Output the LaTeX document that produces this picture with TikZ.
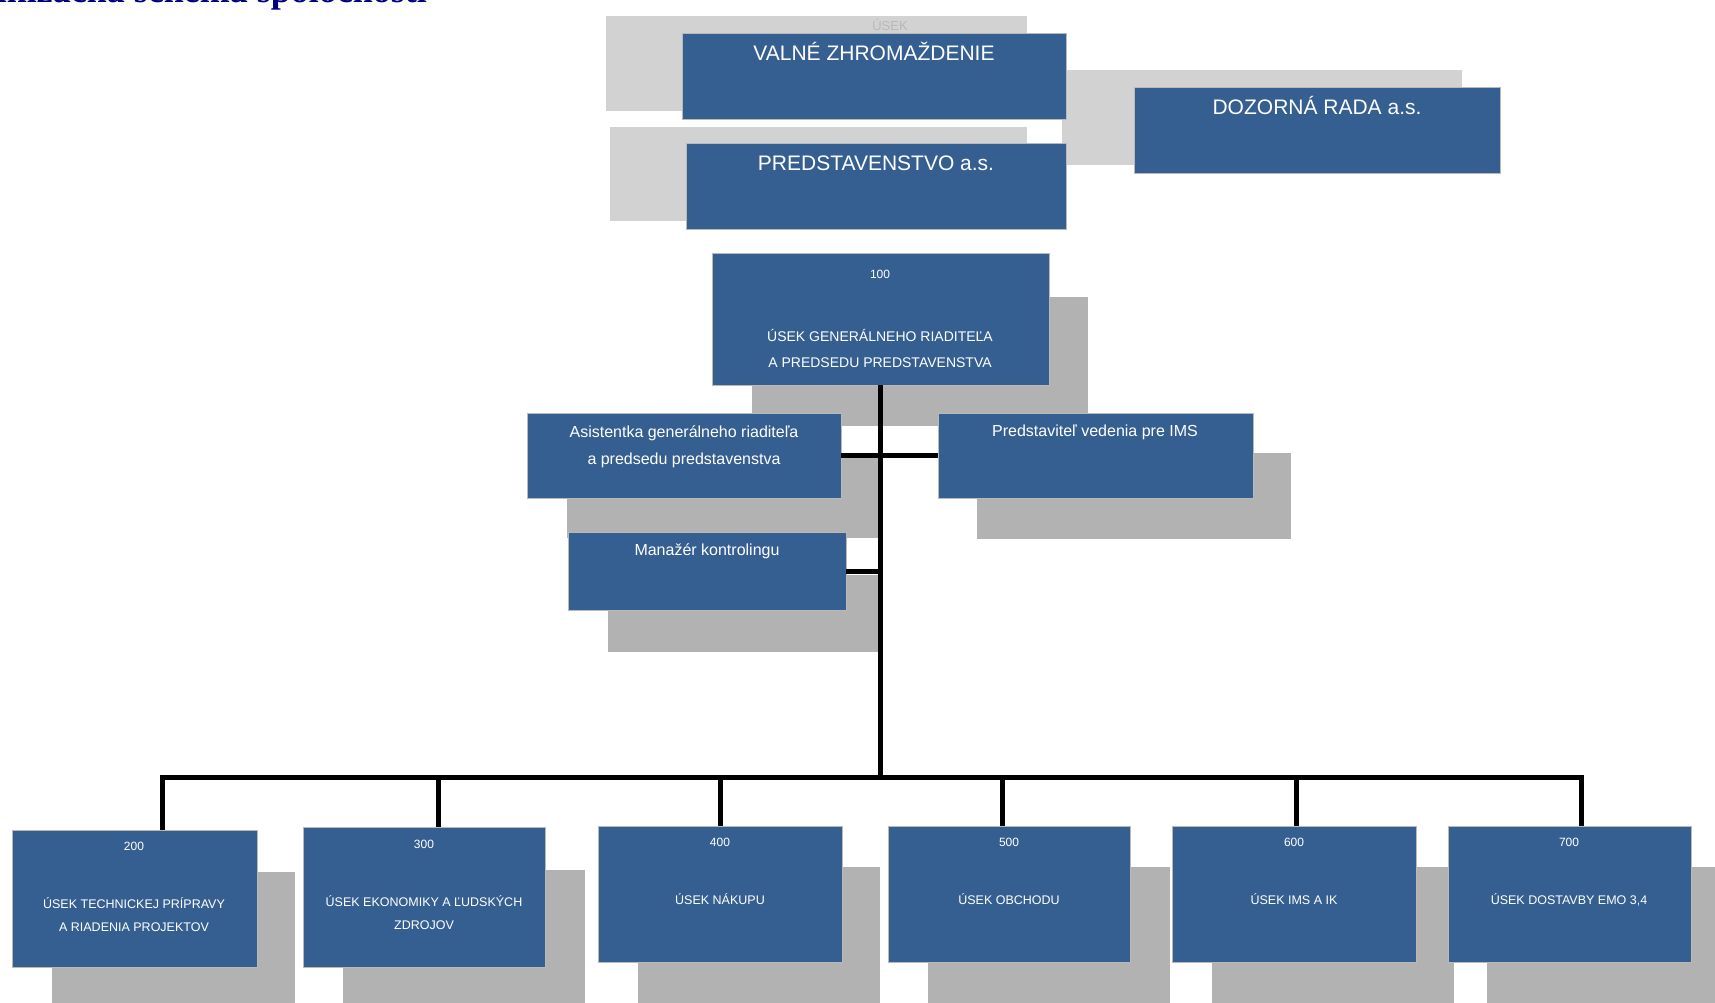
\documentclass[tikz,border=0pt]{standalone}
\usepackage{fontspec}
\setmainfont{Liberation Sans}
\newfontfamily\titlefont{Liberation Serif}
\usetikzlibrary{calc}
\definecolor{boxblue}{HTML}{365F91}
\definecolor{shadelight}{HTML}{D2D2D2}
\definecolor{shadedark}{HTML}{B2B2B2}
\definecolor{titleblue}{HTML}{000080}
\begin{document}
\begin{tikzpicture}[x=1pt,y=-1pt,
  orgbox/.style={draw=gray!55, line width=0.8pt, fill=boxblue, inner sep=0pt, outer sep=0pt, anchor=north west},
  lblone/.style={text=white, inner sep=0pt, text height=0.72em, text depth=0pt},
  lbltwo/.style={text=white, inner sep=0pt, align=center},
  link/.style={line width=5pt, black, line join=miter},
  bigfont/.style={font=\fontsize{21}{25}\selectfont},
  midfont/.style={font=\fontsize{16}{27}\selectfont},
  numfont/.style={font=\fontsize{12}{14}\selectfont},
  smallfont/.style={font=\fontsize{12.5}{23}\selectfont},
]
\useasboundingbox (0,0) rectangle (1715,1003);
\clip (0,0) rectangle (1715,1003);

% title (cut at the top edge)
\node[anchor=base east, inner sep=0pt, text=titleblue,
      font=\titlefont\bfseries\fontsize{36}{40}\selectfont] (title) at (427,3) {Organizačná schéma spoločnosti};

% shadows
\fill[shadelight] (606,16) rectangle (1027,111);
\fill[shadelight] (610,127) rectangle (1027,221);
\fill[shadelight] (1062,70) rectangle (1462,165);
\fill[shadedark] (752,297) rectangle (1088,426);
\fill[shadedark] (567,453) rectangle (880,538);
\fill[shadedark] (977,453) rectangle (1291,539);
\fill[shadedark] (608,575) rectangle (883,652);
\fill[shadedark] (52,872) rectangle (295,1010);
\fill[shadedark] (343,870) rectangle (585,1010);
\fill[shadedark] (638,867) rectangle (880,1010);
\fill[shadedark] (928,867) rectangle (1170,1010);
\fill[shadedark] (1212,867) rectangle (1454,1010);
\fill[shadedark] (1487,867) rectangle (1730,1010);

\node[inner sep=0pt, text=gray!55, font=\fontsize{13}{15}\selectfont] (usek) at (890,25) {ÚSEK};

% boxes
\node[orgbox, minimum width=384, minimum height=86] (vz) at (682,33) {};
\node[orgbox, minimum width=380, minimum height=86] (ps) at (686,143) {};
\node[orgbox, minimum width=366, minimum height=86] (dr) at (1134,87) {};
\node[orgbox, minimum width=337, minimum height=132] (n100) at (712,253) {};
\node[orgbox, minimum width=314, minimum height=85] (asist) at (527,413) {};
\node[orgbox, minimum width=315, minimum height=85] (ims) at (938,413) {};
\node[orgbox, minimum width=278, minimum height=78] (kontr) at (568,532) {};
\node[orgbox, minimum width=245, minimum height=137] (b200) at (12,830) {};
\node[orgbox, minimum width=242, minimum height=140] (b300) at (303,827) {};
\node[orgbox, minimum width=244, minimum height=136] (b400) at (598,826) {};
\node[orgbox, minimum width=242, minimum height=136] (b500) at (888,826) {};
\node[orgbox, minimum width=244, minimum height=136] (b600) at (1172,826) {};
\node[orgbox, minimum width=243, minimum height=136] (b700) at (1448,826) {};

% texts
\node[lblone, bigfont] (vzt) at (874,57) {VALNÉ ZHROMAŽDENIE};
\node[lblone, bigfont] (pst) at (876,167) {PREDSTAVENSTVO a.s.};
\node[lblone, bigfont] (drt) at (1317,111) {DOZORNÁ RADA a.s.};
\node[lblone, numfont] (n100n) at (880,275) {100};
\node[lbltwo, font=\fontsize{14}{26}\selectfont] (n100t) at (880,348) {ÚSEK GENERÁLNEHO RIADITEĽA\\A PREDSEDU PREDSTAVENSTVA};
\node[lbltwo, midfont] (asistt) at (684,447) {Asistentka generálneho riaditeľa\\a predsedu predstavenstva};
\node[lblone, midfont] (imst) at (1095,433) {Predstaviteľ vedenia pre IMS};
\node[lblone, midfont] (kontrt) at (707,552) {Manažér kontrolingu};

\node[lblone, numfont] (b200n) at (134,847) {200};
\node[lbltwo, smallfont] (b200t) at (134,915) {ÚSEK TECHNICKEJ PRÍPRAVY\\A RIADENIA PROJEKTOV};
\node[lblone, numfont] (b300n) at (424,845) {300};
\node[lbltwo, smallfont] (b300t) at (424,913) {ÚSEK EKONOMIKY A ĽUDSKÝCH\\ZDROJOV};
\node[lblone, numfont] (b400n) at (720,843) {400};
\node[lblone, smallfont] (b400t) at (720,901) {ÚSEK NÁKUPU};
\node[lblone, numfont] (b500n) at (1009,843) {500};
\node[lblone, smallfont] (b500t) at (1009,901) {ÚSEK OBCHODU};
\node[lblone, numfont] (b600n) at (1294,843) {600};
\node[lblone, smallfont] (b600t) at (1294,901) {ÚSEK IMS A IK};
\node[lblone, numfont] (b700n) at (1569,843) {700};
\node[lblone, smallfont] (b700t) at (1569,901) {ÚSEK DOSTAVBY EMO 3,4};

% connectors
\coordinate (busM) at (880,777);
\coordinate (d200) at (162,777);
\coordinate (d300) at (438,777);
\coordinate (d400) at (720,777);
\coordinate (d500) at (1002,777);
\coordinate (d600) at (1296,777);
\coordinate (d700) at (1581,777);

\draw[link] (n100.south -| busM) -- (busM);
\draw[link] (asist.east) -- (asist.east -| busM);
\draw[link] (ims.west) -- (ims.west -| busM);
\draw[link] (kontr.east) -- (kontr.east -| busM);
\draw[link] (d200 |- b200.north) -- (d200) -- (d700) -- (d700 |- b700.north);
\draw[link] (d300) -- (d300 |- b300.north);
\draw[link] (d400) -- (d400 |- b400.north);
\draw[link] (d500) -- (d500 |- b500.north);
\draw[link] (d600) -- (d600 |- b600.north);
\end{tikzpicture}
\end{document}
